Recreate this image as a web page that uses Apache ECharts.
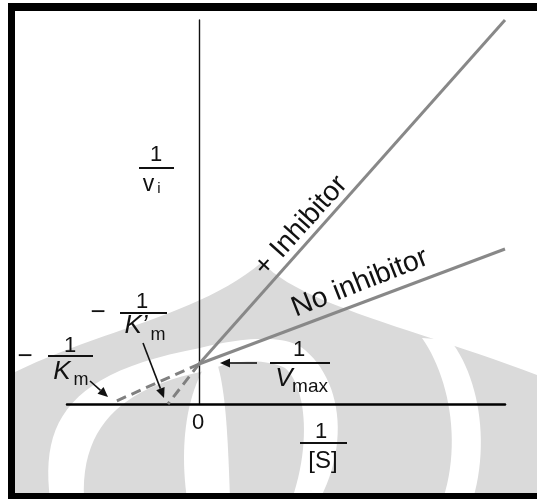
<!DOCTYPE html>
<html><head><meta charset="utf-8">
<script src="https://cdn.jsdelivr.net/npm/echarts@6/dist/echarts.min.js"></script>
<style>html,body{margin:0;padding:0;background:#fff;overflow:hidden}#c{width:537px;height:499px}</style>
</head><body><div id="c"></div>
<script>
// ---- data (arbitrary units of 1/[S] and 1/v) ----
const xRange = [-1.32, 3.06];
const yRange = [0, 3.84];
const inhibitorX = [0, 3.06];
const inhibitorY = [0.40, 3.84];
const noInhibitorX = [0, 3.06];
const noInhibitorY = [0.40, 1.55];
const inhibitorExtX = [0, -0.31];
const inhibitorExtY = [0.40, 0.0];
const noInhibitorExtX = [0, -0.87];
const noInhibitorExtY = [0.40, 0.01];
const lineLabels = ['+ Inhibitor', 'No inhibitor'];
const originLabel = '0';

function pairs(xs, ys){ return xs.map((x,i)=>[x, ys[i]]); }

const FONT = '"Liberation Sans", Arial, Helvetica, sans-serif';
const LINE_GRAY = '#888888';
const WM = '#dadada';

function txt(s, x, y, size, opts){
  opts = opts || {};
  return { type:'text', x:x, y:y, z:50, rotation: opts.rot || 0,
    style:{ text:s, fill:'#111', font:(opts.italic?'italic ':'') + size + 'px ' + FONT,
      textAlign: opts.align || 'center', textVerticalAlign:'middle' } };
}
function bar(x1, x2, y){
  return { type:'line', z:50, shape:{x1:x1,y1:y,x2:x2,y2:y}, style:{stroke:'#111', lineWidth:2} };
}
function arrow(x1,y1,x2,y2){
  const dx=x2-x1, dy=y2-y1, L=Math.sqrt(dx*dx+dy*dy), ux=dx/L, uy=dy/L;
  const hl=10, hw=4.5;
  const bx=x2-ux*hl, by=y2-uy*hl;
  return [
    { type:'line', z:50, shape:{x1:x1,y1:y1,x2:bx,y2:by}, style:{stroke:'#111', lineWidth:1.6} },
    { type:'polygon', z:50, shape:{points:[[x2,y2],[bx-uy*hw,by+ux*hw],[bx+uy*hw,by-ux*hw]]}, style:{fill:'#111'} }
  ];
}
// simple path: ['M',x,y] ['C',x1,y1,x2,y2,x,y] ['L',x,y]
function pathPts(cmds){
  const pts=[]; let cx=0, cy=0;
  cmds.forEach(c=>{
    if(c[0]==='M' || c[0]==='L'){ cx=c[1]; cy=c[2]; pts.push([cx,cy]); }
    else if(c[0]==='C'){
      const [_,x1,y1,x2,y2,x,y]=c;
      for(let i=1;i<=24;i++){
        const t=i/24, m=1-t;
        pts.push([m*m*m*cx+3*m*m*t*x1+3*m*t*t*x2+t*t*t*x, m*m*m*cy+3*m*m*t*y1+3*m*t*t*y2+t*t*t*y]);
      }
      cx=x; cy=y;
    }
  });
  return pts;
}
function wm(cmds, fill, k){
  return { type:'polygon', z:-1, z2:k, silent:true, shape:{points:pathPts(cmds)}, style:{fill:fill} };
}

const graphics = [
  // watermark
  wm([['M',15,372],['C',100,330,200,315,262,262],['C',300,305,420,330,537,375],['L',537,499],['L',15,499]], WM, 0),
  // left/central white band (rises from bottom-left, arches over the origin, descends right)
  wm([['M',50,499],['C',40,420,70,372,200,348],['C',240,338,285,333,305,350],
      ['C',340,380,350,440,320,499],['L',292,499],['C',312,440,305,385,285,368],
      ['C',265,358,230,360,210,370],['C',130,385,80,420,84,499]], '#fff', 1),
  // small inner white flame near the vertical axis
  wm([['M',205,366],['C',185,400,180,450,187,499],['L',230,499],['C',228,440,226,395,218,366]], '#fff', 2),
  // right outer white band
  wm([['M',422,338],['C',448,375,462,440,443,499],['L',473,499],['C',490,440,478,375,450,340]], '#fff', 3),
  // frame
  { type:'rect', z:100, shape:{x:8,y:3,width:529,height:8}, style:{fill:'#000'} },
  { type:'rect', z:100, shape:{x:8,y:3,width:7,height:496}, style:{fill:'#000'} },
  { type:'rect', z:100, shape:{x:8,y:493,width:529,height:6}, style:{fill:'#000'} },
  // 1 / v_i
  txt('1', 156, 155, 22), bar(139, 174, 168), txt('v', 148.5, 185, 23), txt('i', 159, 189, 15),
  // − 1 / K'm
  txt('−', 98, 313, 26), txt('1', 142, 302, 22), bar(120, 167, 313),
  txt('K’', 136, 326, 26, {italic:true}), txt('m', 158, 335, 18),
  // − 1 / Km
  txt('−', 25, 357, 26), txt('1', 70, 346, 22), bar(48, 93, 356),
  txt('K', 62, 372, 26, {italic:true}), txt('m', 81, 380, 18),
  // 1 / Vmax
  txt('1', 299, 350, 22), bar(270, 330, 363),
  txt('V', 284, 379, 26, {italic:true}), txt('max', 310, 387, 19),
  // 1 / [S]
  txt('1', 321, 432, 22), bar(300, 347, 443), txt('[S]', 323, 461, 24),
  // origin
  txt(originLabel, 198, 423, 22),
  // line labels
  txt(lineLabels[0], 301, 226, 28, {rot: 48*Math.PI/180}),
  txt(lineLabels[1], 360, 283, 28.5, {rot: 21.5*Math.PI/180})
].concat(arrow(257,363,220,363), arrow(90,381,108,397), arrow(143,343,164,398));

const chart = echarts.init(document.getElementById('c'), null, {renderer:'canvas'});
chart.setOption({
  animation:false,
  backgroundColor:'#fff',
  grid:{left:67, right:32, top:20, bottom:95},
  xAxis:{type:'value', min:xRange[0], max:xRange[1],
    axisLine:{show:true, onZero:false, lineStyle:{color:'#000', width:2.5}},
    axisTick:{show:false}, axisLabel:{show:false}, splitLine:{show:false}},
  yAxis:{type:'value', min:yRange[0], max:yRange[1],
    axisLine:{show:true, onZero:true, lineStyle:{color:'#111', width:1.4}},
    axisTick:{show:false}, axisLabel:{show:false}, splitLine:{show:false}},
  series:[
    {type:'line', data:pairs(inhibitorX, inhibitorY), showSymbol:false, silent:true,
      lineStyle:{color:LINE_GRAY, width:3}},
    {type:'line', data:pairs(noInhibitorX, noInhibitorY), showSymbol:false, silent:true,
      lineStyle:{color:LINE_GRAY, width:3}},
    {type:'line', data:pairs(inhibitorExtX, inhibitorExtY), showSymbol:false, silent:true,
      lineStyle:{color:'#808080', width:3, type:[10,6]}},
    {type:'line', data:pairs(noInhibitorExtX, noInhibitorExtY), showSymbol:false, silent:true,
      lineStyle:{color:'#808080', width:3, type:[10,6]}}
  ],
  graphic: graphics
});
</script></body></html>
